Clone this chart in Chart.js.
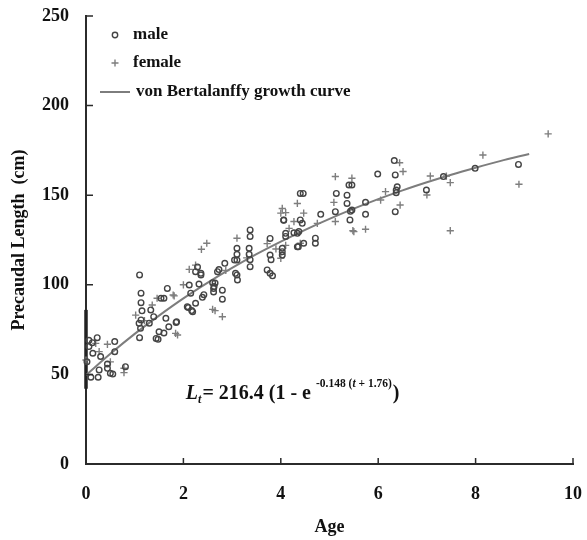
<!DOCTYPE html>
<html>
<head>
<meta charset="utf-8">
<script src="https://cdn.jsdelivr.net/npm/chart.js@4.4.1/dist/chart.umd.min.js"></script>
<style>
  html, body { margin: 0; padding: 0; background: #fff; }
  #wrap { width: 587px; height: 540px; position: relative; }
</style>
</head>
<body>
<div id="wrap"><canvas id="growthChart"></canvas></div>
<script>
// male points: age (yr), precaudal length (cm)
let maleAge = [0.06,0.13,0.23,0.06,0.14,0.59,0.59,0.44,0.44,0.5,0.55,0.27,0.25,0.1,0.81,0.02,0.3,
  1.1,1.13,1.13,1.15,1.13,1.09,1.12,1.1,1.33,1.39,1.3,1.5,1.44,1.6,1.7,1.85,1.6,1.67,1.54,1.64,1.48,1.86,
  2.1,2.17,2.25,2.12,2.25,2.36,2.32,2.39,2.42,2.6,2.65,2.62,2.62,2.7,2.73,2.8,2.8,2.85,2.29,2.15,2.08,2.19,2.36,2.63,
  3.05,3.1,3.07,3.1,3.1,3.1,3.37,3.37,3.35,3.35,3.37,3.37,3.78,3.78,3.8,3.72,3.78,3.83,3.11,
  4.03,4.06,4.1,4.34,4.36,4.4,4.46,4.06,4.4,4.44,4.82,4.1,4.27,4.37,4.47,4.34,4.71,4.71,4.03,4.03,
  5.14,5.36,5.4,5.46,5.12,5.36,5.46,5.74,5.74,5.42,5.99,5.43,
  6.35,6.39,6.37,6.37,6.35,6.33,6.99,7.34,7.99,8.88]
let maleLength = [69,67.7,70.5,65.5,61.8,68.3,62.7,55.8,53.4,50.6,50.2,52.5,48.4,48.4,54.3,57,60,
  105.5,95.3,90,85.5,80.4,78.5,75.7,70.5,86,82.2,78.6,73.8,70.1,73.1,76.6,79,92.5,98,92.5,81.3,69.6,79.4,
  87.3,85.6,89.7,99.9,107.3,106.4,100.4,93,94.5,101.2,101,98,96,107.3,108.5,97,92,112,110,95.3,87.8,85,105.5,99,
  113.8,113.8,106.4,105.5,120.4,117,130.6,127,120.4,117,114,110.1,125.9,116.6,114,108.3,106.4,105,102.7,
  118.5,136,128.7,128.7,121.3,151,151,136.2,136.2,134.3,139.3,127,129,129.7,123.2,121.3,126,123.2,120.4,116.6,
  151,150,155.7,155.7,140.8,145.4,141.7,146,139.3,136.2,161.8,141,
  161.3,154.7,152.9,151.4,140.8,169.3,152.9,160.4,165,167.2]

// female points
let femaleAge = [0.2,0.27,0.44,0.78,0.78,0.0,0.5,1.02,1.2,1.36,1.46,1.79,1.84,1.81,1.88,
  2.0,2.12,2.25,2.37,2.48,2.6,2.65,2.8,2.87,3.1,3.3,3.72,3.9,
  4.0,4.17,4.4,4.0,4.1,4.27,4.34,4.75,4.03,4.47,4.1,
  5.12,5.46,5.09,5.12,5.5,5.74,5.48,6.05,6.15,6.44,6.51,6.45,
  7.07,7.0,7.4,7.48,8.15,7.48,8.89,9.49]
let femaleLength = [67.3,62.7,66.8,53.4,51,58,57,83.1,80,88.7,92.5,94.3,72.9,93.8,72,
  100,108.6,111,119.8,123.2,86.3,85.6,82.2,108,126,115,123,120,
  114.8,131.5,123.2,140,140.3,135.3,145.4,134.3,142.6,140,122,
  160.4,159.5,146,135.3,129.7,131,130.2,147.3,152,168.1,163.2,144.5,
  160.7,150.1,160.7,157,172.4,130.2,156.1,184.2]

// fitted growth curve as drawn
let curveAge = [0,0.5,1,1.5,2,2.5,3,3.5,4,4.5,5,5.5,6,6.5,7,7.5,8,8.5,9.1]
let curveLength = [49.6,61.5,72.6,82.8,92.4,101.2,109.4,117.1,124.1,130.7,136.8,142.5,147.8,152.7,157.2,161.4,165.3,169.0,173.0]

// dense overlap of age-0 points on the axis
let stackAge = [0, 0]
let stackLength = [42, 86]

let xTicks = [0, 2, 4, 6, 8, 10]
let yTicks = [0, 50, 100, 150, 200, 250]

const SERIF = '"Liberation Serif", "Times New Roman", serif'
const ink = '#2b2b2b'

function pairs(xs, ys) {
  return xs.map((x, i) => ({ x: x, y: ys[i] }))
}

// small tick marks pointing into the plot
const innerTicks = {
  id: 'innerTicks',
  afterDatasetsDraw(chart) {
    const ctx = chart.ctx
    const a = chart.chartArea
    const xs = chart.scales.x, ys = chart.scales.y
    ctx.save()
    ctx.strokeStyle = ink
    ctx.lineWidth = 1.5
    ctx.beginPath()
    for (const v of xTicks) {
      if (v === 0) continue
      const px = xs.getPixelForValue(v)
      ctx.moveTo(px, a.bottom); ctx.lineTo(px, a.bottom - 6)
    }
    for (const v of yTicks) {
      if (v === 0) continue
      const py = ys.getPixelForValue(v)
      ctx.moveTo(a.left, py); ctx.lineTo(a.left + 7, py)
    }
    ctx.stroke()
    ctx.restore()
  }
}

// legend drawn inside plot, top-left
const legendBox = {
  id: 'legendBox',
  afterDraw(chart) {
    const ctx = chart.ctx
    const a = chart.chartArea
    const ds = chart.data.datasets
    ctx.save()
    ctx.font = 'bold 17px ' + SERIF
    ctx.fillStyle = '#111'
    ctx.textBaseline = 'middle'
    ctx.textAlign = 'left'
    // male
    let y = a.top + 19
    ctx.beginPath()
    ctx.strokeStyle = ds[0].borderColor
    ctx.lineWidth = 1.4
    ctx.arc(a.left + 29, y, 2.7, 0, Math.PI * 2)
    ctx.stroke()
    ctx.fillText(ds[0].label, a.left + 47, y)
    // female
    y = a.top + 47
    ctx.beginPath()
    ctx.strokeStyle = ds[1].borderColor
    ctx.moveTo(a.left + 25.5, y); ctx.lineTo(a.left + 32.5, y)
    ctx.moveTo(a.left + 29, y - 3.5); ctx.lineTo(a.left + 29, y + 3.5)
    ctx.stroke()
    ctx.fillText(ds[1].label, a.left + 47, y)
    // curve
    y = a.top + 76
    ctx.beginPath()
    ctx.strokeStyle = ds[2].borderColor
    ctx.lineWidth = 2
    ctx.moveTo(a.left + 14, y); ctx.lineTo(a.left + 44, y)
    ctx.stroke()
    ctx.fillText(ds[2].label, a.left + 50, y)
    ctx.restore()
  }
}

// growth equation text
const equation = {
  id: 'equation',
  afterDraw(chart) {
    const ctx = chart.ctx
    const xs = chart.scales.x, ys = chart.scales.y
    let x = xs.getPixelForValue(2.05)
    const base = ys.getPixelForValue(36.3)
    ctx.save()
    ctx.fillStyle = '#111'
    ctx.textBaseline = 'alphabetic'
    ctx.textAlign = 'left'
    const parts = [
      ['L', 'italic bold 20px', 0, 0],
      ['t', 'italic bold 12px', 4, 1],
      ['= 216.4 (1 - e', 'bold 20px', 0, 5],
      ['-0.148 (', 'bold 11.5px', -12, 0],
      ['t', 'italic bold 11.5px', -12, 0],
      [' + 1.76)', 'bold 11.5px', -12, 1],
      [')', 'bold 20px', 0, 0]
    ]
    for (const [s, f, dy, gap] of parts) {
      ctx.font = f + ' ' + SERIF
      ctx.fillText(s, x, base + dy)
      x += ctx.measureText(s).width + gap
    }
    ctx.restore()
  }
}

const ctx = document.getElementById('growthChart').getContext('2d')
new Chart(ctx, {
  type: 'scatter',
  data: {
    datasets: [
      {
        label: 'male',
        data: pairs(maleAge, maleLength),
        pointStyle: 'circle',
        pointRadius: 2.8,
        pointBorderWidth: 1.4,
        borderColor: '#444444',
        backgroundColor: 'rgba(0,0,0,0)',
        clip: 8
      },
      {
        label: 'female',
        data: pairs(femaleAge, femaleLength),
        pointStyle: 'cross',
        pointRadius: 3.6,
        pointBorderWidth: 1.4,
        borderColor: '#7e7e7e',
        backgroundColor: '#7e7e7e',
        clip: 8
      },
      {
        label: 'von Bertalanffy growth curve',
        type: 'line',
        data: pairs(curveAge, curveLength),
        borderColor: '#7d7d7d',
        borderWidth: 2,
        pointRadius: 0,
        cubicInterpolationMode: 'monotone',
        fill: false
      },
      {
        label: 'stack',
        type: 'line',
        data: pairs(stackAge, stackLength),
        borderColor: '#222',
        borderWidth: 3.5,
        pointRadius: 0,
        clip: 8
      }
    ]
  },
  options: {
    responsive: true,
    maintainAspectRatio: false,
    animation: false,
    layout: { padding: { top: 16, right: 14, left: 0, bottom: 0 } },
    plugins: {
      legend: { display: false },
      tooltip: { enabled: false }
    },
    scales: {
      x: {
        type: 'linear',
        min: 0,
        max: 10,
        afterFit: (s) => { s.height = 76; s.paddingLeft = 0; s.paddingRight = 0 },
        border: { display: true, color: ink, width: 2 },
        grid: { drawOnChartArea: false, drawTicks: true, tickLength: -6, color: 'rgba(0,0,0,0)' },
        ticks: {
          stepSize: 2,
          padding: 26,
          color: '#111',
          font: { family: SERIF, size: 18, weight: 'bold' },
          maxRotation: 0
        },
        title: {
          display: true,
          text: 'Age',
          color: '#111',
          font: { family: SERIF, size: 18, weight: 'bold' },
          padding: { top: 0, bottom: 2 }
        }
      },
      y: {
        type: 'linear',
        min: 0,
        max: 250,
        afterFit: (s) => { s.width = 86; s.paddingTop = 0; s.paddingBottom = 0 },
        border: { display: true, color: ink, width: 2 },
        grid: { drawOnChartArea: false, drawTicks: true, tickLength: -6, color: 'rgba(0,0,0,0)' },
        ticks: {
          stepSize: 50,
          padding: 23,
          color: '#111',
          font: { family: SERIF, size: 18, weight: 'bold' }
        },
        title: {
          display: true,
          text: 'Precaudal Length  (cm)',
          color: '#111',
          font: { family: SERIF, size: 18, weight: 'bold' },
          padding: { top: 9, bottom: 0 }
        }
      }
    }
  },
  plugins: [innerTicks, legendBox, equation]
})
</script>
</body>
</html>
